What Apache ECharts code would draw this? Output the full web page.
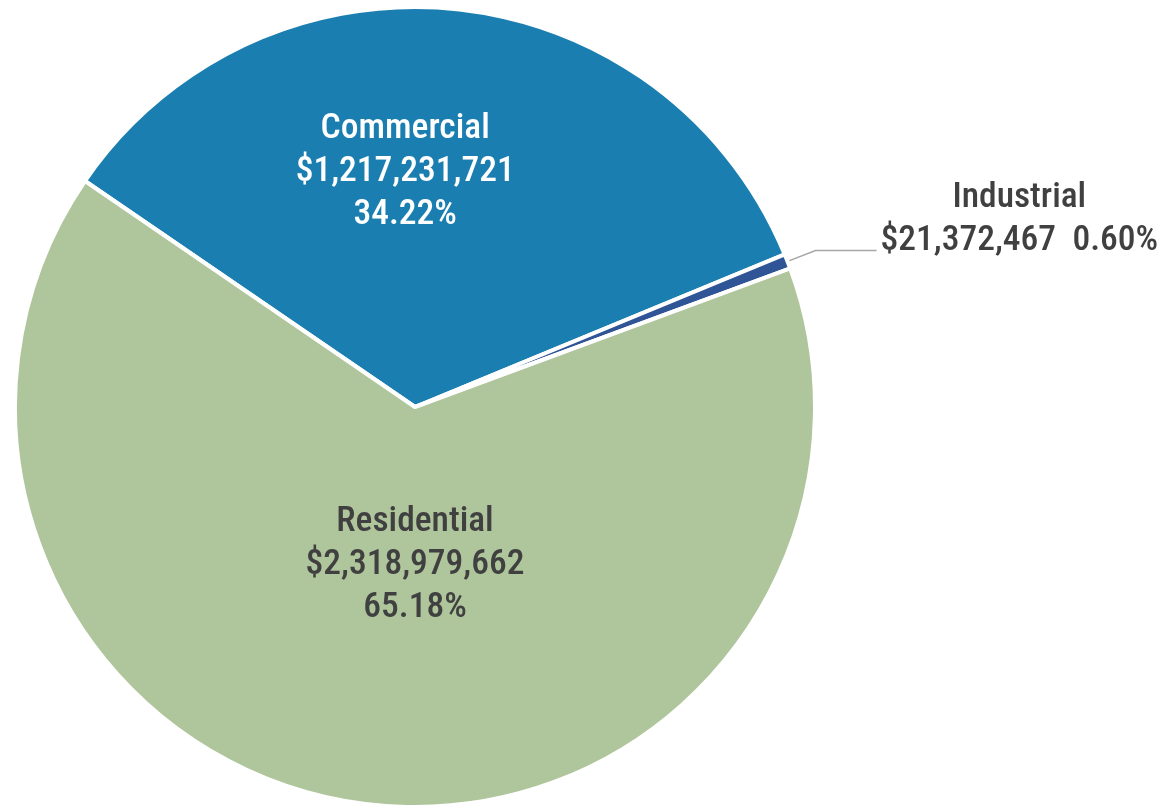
<!DOCTYPE html>
<html>
<head>
<meta charset="utf-8">
<script src="https://cdn.jsdelivr.net/npm/echarts@6/dist/echarts.min.js"></script>
<style>
html,body{margin:0;padding:0;background:#fff;}
#chart{width:1167px;height:806px;}
</style>
</head>
<body>
<div id="chart"></div>
<script>
const categories = ['Commercial', 'Industrial', 'Residential'];
const values = [1217231721, 21372467, 2318979662];
const colors = ['#1a7fb0', '#2f5597', '#afc59c'];

const FONT = "Roboto, 'Liberation Sans', sans-serif";
const textBase = { fontFamily: FONT, fontStyle: 'condensed', fontWeight: 500, fontSize: 35.5, lineHeight: 43 };

function money(v) {
  return '$' + v.toString().replace(/\B(?=(\d{3})+(?!\d))/g, ',');
}

const labelCfg = [
  { position: 'inside', color: '#ffffff', offset: [-31, -33], multiline: true },
  { position: 'outside', color: '#404040', multiline: false },
  { position: 'inside', color: '#404040', offset: [25, -43], multiline: true }
];

const data = categories.map((name, i) => {
  const cfg = labelCfg[i];
  const label = Object.assign({
    show: true,
    position: cfg.position,
    color: cfg.color,
    align: 'center'
  }, textBase);
  if (cfg.multiline) {
    label.formatter = p => p.name + '\n' + money(p.value) + '\n' + p.percent.toFixed(2) + '%';
    label.offset = cfg.offset;
  } else {
    label.formatter = p => '{a|' + p.name + '}\n{a|' + money(p.value) + '  ' + p.percent.toFixed(2) + '%}';
    label.rich = { a: Object.assign({ align: 'center', color: cfg.color }, textBase) };
    label.padding = [0, 0, 62, 0];
    label.distanceToLabelLine = 4;
  }
  return {
    name: name,
    value: values[i],
    itemStyle: { color: colors[i] },
    label: label,
    labelLine: { show: cfg.position === 'outside', length: 30, length2: 61, lineStyle: { color: '#a6a6a6', width: 1.5 } }
  };
});

const chart = echarts.init(document.getElementById('chart'), null, { renderer: 'canvas' });
chart.setOption({
  animation: false,
  backgroundColor: '#ffffff',
  series: [{
    type: 'pie',
    center: [415, 407],
    radius: [0, 400],
    startAngle: 145.6,
    clockwise: true,
    avoidLabelOverlap: false,
    itemStyle: { borderColor: '#ffffff', borderWidth: 4 },
    emphasis: { disabled: true },
    data: data
  }]
});
</script>
</body>
</html>
